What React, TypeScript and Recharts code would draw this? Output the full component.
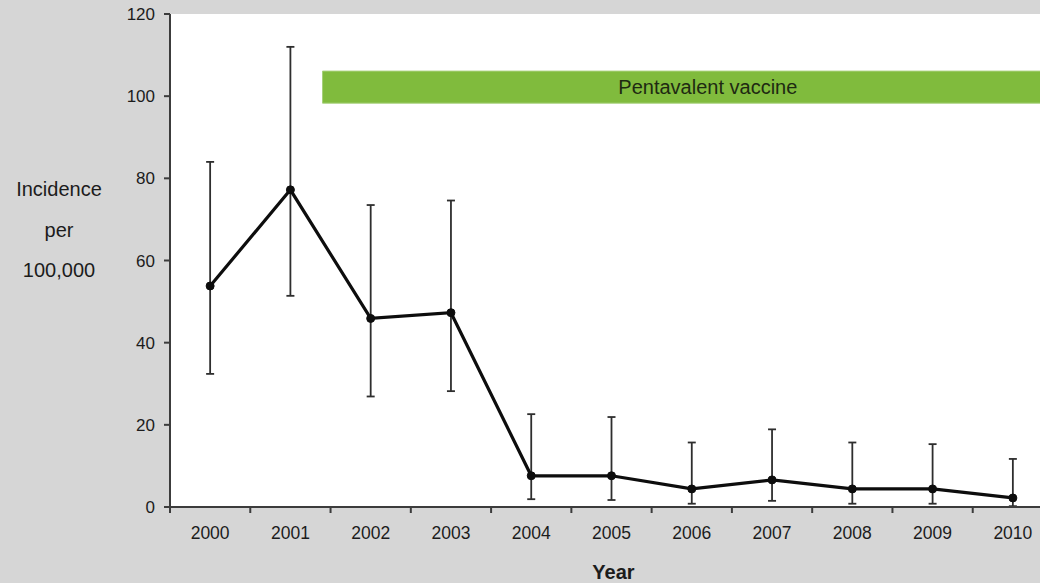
import React from "react";
import {
  ComposedChart,
  Line,
  XAxis,
  YAxis,
  CartesianGrid,
  ErrorBar,
  ReferenceArea,
} from "recharts";

const years = [2000, 2001, 2002, 2003, 2004, 2005, 2006, 2007, 2008, 2009, 2010];
const incidence = [53.8, 77.2, 45.9, 47.3, 7.6, 7.6, 4.4, 6.6, 4.4, 4.4, 2.2];
const lowerCI = [32.4, 51.4, 26.9, 28.2, 1.9, 1.7, 0.8, 1.5, 0.8, 0.8, 0.2];
const upperCI = [84.0, 112.0, 73.5, 74.6, 22.6, 21.9, 15.7, 18.9, 15.7, 15.3, 11.7];
const yTicks = [0, 20, 40, 60, 80, 100, 120];
const vaccineStart = 2001.4;
const vaccineEnd = 2011;
const vaccineLow = 98.3;
const vaccineHigh = 106.1;
const vaccineLabel = "Pentavalent vaccine";
const yLabelLines = ["Incidence", "per", "100,000"];
const xLabel = "Year";

const data = years.map((y, i) => ({
  year: y,
  value: incidence[i],
  err: [incidence[i] - lowerCI[i], upperCI[i] - incidence[i]],
}));

const xTicks: number[] = [];
years.forEach((y, i) => {
  xTicks.push(y - 0.5);
  xTicks.push(y);
  if (i === years.length - 1) xTicks.push(y + 0.5);
});

const FONT = "'Liberation Sans', Arial, sans-serif";
const TEXT = "#1c1c1c";
const AXIS = "#3c3c3c";

const XTick = (props: any) => {
  const { x, y, payload } = props;
  const v = payload.value as number;
  if (Math.abs(v - Math.round(v)) > 0.01) {
    return <line x1={x} x2={x} y1={y} y2={y + 6} stroke={AXIS} strokeWidth={2} />;
  }
  return (
    <text x={x} y={y + 32} textAnchor="middle" fill={TEXT} fontSize={17.5} fontFamily={FONT}>
      {v}
    </text>
  );
};

const YLabel = (props: any) => {
  const vb = props.viewBox || { x: 110, y: 14, width: 60, height: 493 };
  const cx = vb.x - 51;
  return (
    <g>
      {yLabelLines.map((t, i) => (
        <text
          key={t}
          x={cx}
          y={196 + i * 40.5}
          textAnchor="middle"
          fill={TEXT}
          fontSize={20}
          fontFamily={FONT}
        >
          {t}
        </text>
      ))}
    </g>
  );
};

export default function App() {
  return (
    <div
      style={{
        position: "absolute",
        left: 0,
        top: 0,
        width: 1040,
        height: 583,
        overflow: "hidden",
        background: "#d6d6d6",
      }}
    >
      <ComposedChart
        width={1060}
        height={583}
        data={data}
        margin={{ top: 14, right: 7, bottom: 0, left: 110 }}
      >
        <CartesianGrid fill="#ffffff" stroke="none" horizontal={false} vertical={false} />
        <XAxis
          dataKey="year"
          type="number"
          domain={[1999.5, 2010.5]}
          ticks={xTicks}
          interval={0}
          tick={<XTick />}
          tickLine={false}
          tickSize={0}
          tickMargin={0}
          height={76}
          axisLine={{ stroke: AXIS, strokeWidth: 2 }}
          label={{
            value: xLabel,
            position: "insideBottom",
            offset: 4,
            dx: 2,
            fill: TEXT,
            fontSize: 20,
            fontWeight: "bold",
            fontFamily: FONT,
          }}
        />
        <YAxis
          domain={[0, 120]}
          ticks={yTicks}
          interval={0}
          width={60}
          tickSize={6}
          tickMargin={9}
          tick={{ fill: TEXT, fontSize: 17, fontFamily: FONT }}
          tickLine={{ stroke: AXIS, strokeWidth: 2 }}
          axisLine={{ stroke: AXIS, strokeWidth: 2 }}
          label={<YLabel />}
        />
        <ReferenceArea
          x1={vaccineStart}
          x2={vaccineEnd}
          y1={vaccineLow}
          y2={vaccineHigh}
          fill="#80bb3d"
          fillOpacity={1}
          stroke="#a6d07a"
          strokeWidth={1}
          ifOverflow="visible"
          label={{
            value: vaccineLabel,
            position: "center",
            fill: "#1e2a12",
            fontSize: 20,
            fontFamily: FONT,
          }}
        />
        <Line
          dataKey="value"
          stroke="#0d0d0d"
          strokeWidth={3.2}
          dot={{ r: 4, fill: "#0d0d0d", stroke: "#0d0d0d", strokeWidth: 1 }}
          activeDot={false}
          isAnimationActive={false}
        >
          <ErrorBar dataKey="err" width={4} stroke="#2e2e2e" strokeWidth={1.8} direction="y" />
        </Line>
      </ComposedChart>
    </div>
  );
}
